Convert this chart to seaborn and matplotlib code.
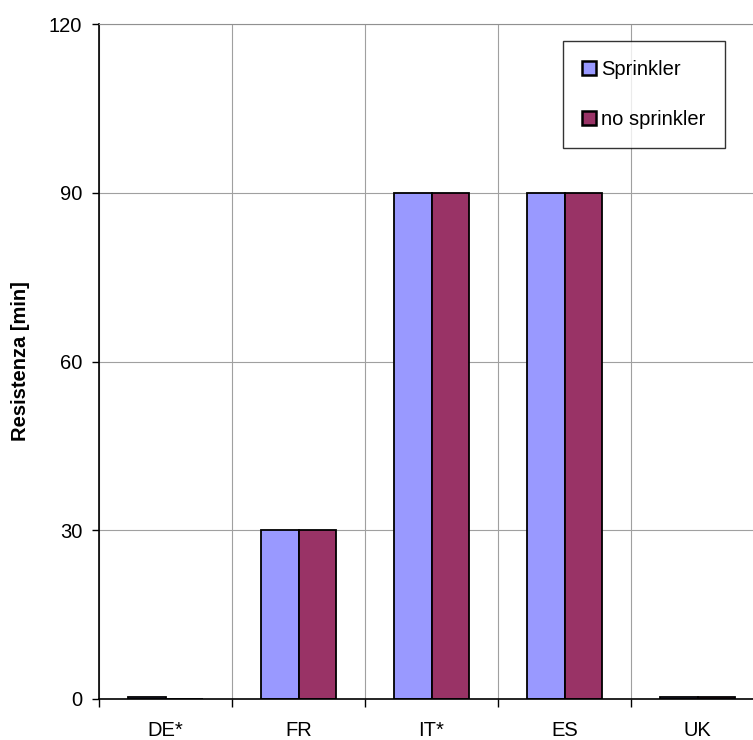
import numpy as np
import pandas as pd
import matplotlib.pyplot as plt
import seaborn as sns
from matplotlib.ticker import FixedLocator

# Resistenza al fuoco per paese
countries = ['DE*', 'FR', 'IT*', 'ES', 'UK']
sprinkler = [0.4, 30, 90, 90, 0.4]
no_sprinkler = [0, 30, 90, 90, 0.4]
series = ['Sprinkler', 'no sprinkler']
colors = ['#9999FF', '#993366']

df = pd.DataFrame({
    'paese': countries * 2,
    'serie': [series[0]] * len(countries) + [series[1]] * len(countries),
    'valore': sprinkler + no_sprinkler,
})

sns.set_style('white')
plt.rcParams['font.family'] = ['Liberation Sans', 'DejaVu Sans']
plt.rcParams['text.color'] = 'black'
plt.rcParams['axes.labelcolor'] = 'black'
plt.rcParams['xtick.color'] = 'black'
plt.rcParams['ytick.color'] = 'black'

fig = plt.figure(figsize=(7.53, 7.40), dpi=100)
ax = fig.add_axes([99 / 753, 41 / 740, 665 / 753, 675 / 740])

sns.barplot(data=df, x='paese', y='valore', hue='serie', palette=colors,
            width=0.57, edgecolor='black', linewidth=1.3, saturation=1,
            ax=ax)

ax.set_ylim(0, 120)
ax.set_xlim(-0.5, 4.5)
ax.set_yticks([0, 30, 60, 90, 120])
ax.yaxis.grid(True, color='#a0a0a0', linewidth=0.8)
ax.xaxis.set_minor_locator(FixedLocator(np.arange(-0.5, 5, 1)))
ax.xaxis.grid(True, which='minor', color='#a0a0a0', linewidth=0.8)
ax.set_axisbelow(True)
ax.tick_params(axis='x', which='major', length=0, pad=16, labelsize=14.5, labelcolor='black')
ax.tick_params(axis='x', which='minor', bottom=True, length=6, width=1, color='black', direction='out')
ax.tick_params(axis='y', left=True, length=5, width=1, color='black', direction='out',
               labelsize=14.5, pad=7, labelcolor='black')

ax.set_xlabel('')
ax.set_ylabel('Resistenza [min]', fontsize=14.5, fontweight='bold', labelpad=14, color='black')

for s in ['left', 'bottom']:
    ax.spines[s].set_color('black')
    ax.spines[s].set_linewidth(1.2)
ax.spines['top'].set_color('#909090')
ax.spines['right'].set_visible(False)

leg = ax.legend(loc='upper left', bbox_to_anchor=(464 / 665, 1 - 17 / 675),
                frameon=True, fancybox=False, edgecolor='black', fontsize=14.5,
                handlelength=0.7, handleheight=0.7, handletextpad=0.25,
                labelspacing=1.55, borderpad=0.95, borderaxespad=0)
leg.get_frame().set_linewidth(1)
for t in leg.get_texts():
    t.set_color('black')
for h in leg.legend_handles:
    h.set_edgecolor('black')
    h.set_linewidth(1.8)

fig.savefig('out.png', dpi=100)
